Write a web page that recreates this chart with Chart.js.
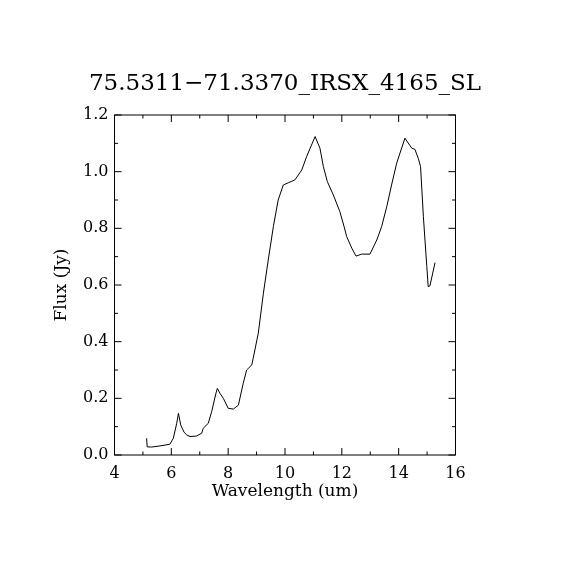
<!DOCTYPE html>
<html>
<head>
<meta charset="utf-8">
<script src="https://cdn.jsdelivr.net/npm/chart.js@4.4.0/dist/chart.umd.min.js"></script>
<style>
  html, body { margin: 0; padding: 0; background: #fff; }
  #myChart { display: block; }
</style>
</head>
<body>
<canvas id="myChart" width="570" height="570"></canvas>
<script>
// spectrum
var wavelength = [5.13, 5.15, 5.3, 5.6, 5.95, 6.07, 6.19, 6.25, 6.33, 6.45, 6.54, 6.66, 6.89, 7.07, 7.12,
    7.3, 7.42, 7.57, 7.62, 7.71, 7.83, 8.0, 8.18, 8.36, 8.53, 8.65, 8.83, 8.88, 9.06, 9.24, 9.41,
    9.59, 9.76, 9.94, 10.12, 10.35, 10.59, 10.76, 11.06, 11.23, 11.35, 11.49, 11.7, 11.93, 12.08,
    12.17, 12.35, 12.5, 12.7, 12.99, 13.23, 13.4, 13.58, 13.75, 13.93, 14.22, 14.46, 14.57, 14.69,
    14.77, 14.87, 14.99, 15.04, 15.1, 15.28];
var flux = [0.059, 0.029, 0.028, 0.032, 0.038, 0.059, 0.112, 0.147, 0.106, 0.08, 0.071, 0.065, 0.067, 0.077, 0.094,
    0.112, 0.153, 0.218, 0.235, 0.218, 0.2, 0.165, 0.162, 0.176, 0.253, 0.3, 0.318, 0.341, 0.43, 0.571, 0.688,
    0.806, 0.9, 0.953, 0.961, 0.971, 1.006, 1.053, 1.124, 1.083, 1.018, 0.965, 0.918, 0.859, 0.806,
    0.771, 0.73, 0.702, 0.709, 0.709, 0.759, 0.806, 0.876, 0.953, 1.03, 1.118, 1.083, 1.079, 1.047,
    1.018, 0.841, 0.665, 0.594, 0.597, 0.679];
var xTicks = [4, 6, 8, 10, 12, 14, 16];
var yTicks = [0.0, 0.2, 0.4, 0.6, 0.8, 1.0, 1.2];
var titleText = "75.5311\u221271.3370_IRSX_4165_SL";

var points = [];
for (var i = 0; i < wavelength.length; i++) {
    points.push({ x: wavelength[i], y: flux[i] });
}

var serif = "'DejaVu Serif', 'Liberation Serif', serif";

// frame, inward ticks on all four sides, and the title
var framePlugin = {
    id: 'frame',
    afterDraw: function (chart) {
        var c = chart.ctx;
        var a = chart.chartArea;
        var xs = chart.scales.x;
        var ys = chart.scales.y;
        c.save();
        c.strokeStyle = '#000';
        c.lineWidth = 1;
        c.strokeRect(a.left, a.top, a.right - a.left, a.bottom - a.top);
        c.beginPath();
        for (var v = 4; v <= 16; v += 1) {
            var px = xs.getPixelForValue(v);
            var len = (v % 2 === 0) ? 7 : 3.5;
            c.moveTo(px, a.bottom); c.lineTo(px, a.bottom - len);
            c.moveTo(px, a.top); c.lineTo(px, a.top + len);
        }
        for (var k = 0; k <= 12; k++) {
            var py = ys.getPixelForValue(k / 10);
            var l2 = (k % 2 === 0) ? 7 : 3.5;
            c.moveTo(a.left, py); c.lineTo(a.left + l2, py);
            c.moveTo(a.right, py); c.lineTo(a.right - l2, py);
        }
        c.stroke();
        c.fillStyle = '#000';
        c.font = "23px " + serif;
        c.textAlign = 'center';
        c.textBaseline = 'middle';
        c.fillText(titleText, (a.left + a.right) / 2, 84);
        c.restore();
    }
};

const myChart = new Chart(document.getElementById('myChart'), {
    type: 'scatter',
    data: {
        datasets: [{
            data: points,
            showLine: true,
            borderColor: '#000',
            borderWidth: 1,
            pointRadius: 0,
            tension: 0,
            fill: false
        }]
    },
    options: {
        responsive: false,
        animation: false,
        devicePixelRatio: 1,
        layout: { padding: { top: 115, left: 0, right: 114.5, bottom: 0 } },
        plugins: {
            legend: { display: false },
            title: { display: false },
            tooltip: { enabled: false }
        },
        scales: {
            x: {
                type: 'linear',
                min: 4,
                max: 16,
                afterBuildTicks: function (s) { s.ticks = xTicks.map(function (v) { return { value: v }; }); },
                afterFit: function (s) { s.height = 115; },
                grid: { display: false, drawTicks: false },
                border: { display: false },
                ticks: {
                    color: '#000',
                    padding: 9,
                    maxRotation: 0,
                    font: { family: serif, size: 16 }
                },
                title: {
                    display: true,
                    text: 'Wavelength (um)',
                    color: '#000',
                    font: { family: serif, size: 17 },
                    padding: { top: 0, bottom: 68 }
                }
            },
            y: {
                min: 0,
                max: 1.2,
                afterBuildTicks: function (s) { s.ticks = yTicks.map(function (v) { return { value: v }; }); },
                afterFit: function (s) { s.width = 114.5; },
                grid: { display: false, drawTicks: false },
                border: { display: false },
                ticks: {
                    color: '#000',
                    padding: 6,
                    font: { family: serif, size: 16 },
                    callback: function (v) { return Number(v).toFixed(1); }
                },
                title: {
                    display: true,
                    text: 'Flux (Jy)',
                    color: '#000',
                    font: { family: serif, size: 17 },
                    padding: { top: 51, bottom: 0 }
                }
            }
        }
    },
    plugins: [framePlugin]
});
</script>
</body>
</html>
